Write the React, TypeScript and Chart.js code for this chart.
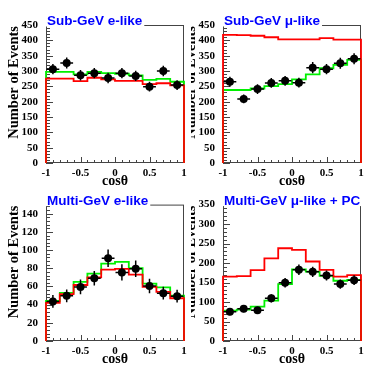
import React, { useEffect, useRef } from "react";
import { Chart, registerables } from "chart.js";

Chart.register(...registerables);

// ---- data ----
const binEdges = [-1, -0.8, -0.6, -0.4, -0.2, 0, 0.2, 0.4, 0.6, 0.8, 1];
const binCenters = [-0.9, -0.7, -0.5, -0.3, -0.1, 0.1, 0.3, 0.5, 0.7, 0.9];

const subGeVeData = [306, 326, 286, 293, 277, 293, 284, 249, 300, 254];
const subGeVeErr = [17, 18, 17, 17, 17, 17, 17, 16, 17, 16];
const subGeVeOsc = [297, 297, 289, 297, 293, 291, 286, 271, 274, 265];
const subGeVeNoOsc = [275, 275, 267, 278, 273, 268, 268, 257, 260, 253];

const subGeVmuData = [265, 209, 241, 261, 268, 262, 311, 306, 325, 340];
const subGeVmuErr = [16, 14, 16, 16, 16, 16, 18, 17, 18, 18];
const subGeVmuOsc = [238, 238, 243, 251, 257, 273, 289, 309, 320, 336];
const subGeVmuNoOsc = [418, 417, 415, 410, 403, 403, 403, 407, 402, 402];

const multiGeVeData = [43.5, 49.7, 59.5, 69, 91, 75.4, 79.4, 60.5, 52.6, 49.3];
const multiGeVeErr = [7, 7, 8, 8, 9.5, 9, 9, 8, 7, 7];
const multiGeVeOsc = [44, 53, 65, 74, 85, 87, 80, 63, 59, 50];
const multiGeVeNoOsc = [42, 51.5, 61.6, 70, 78.6, 79.4, 73, 59.5, 54, 47];

const multiGeVmuData = [75, 82.5, 79, 109.5, 149.5, 182.6, 177.5, 168, 146, 156];
const multiGeVmuErr = [9, 9, 9, 10.5, 12, 13.5, 13, 13, 12, 12.5];
const multiGeVmuOsc = [78, 80.7, 88, 103.6, 146, 184, 178, 167, 154.6, 157];
const multiGeVmuNoOsc = [165, 166.5, 182, 212, 238, 233.6, 204, 182.6, 165, 169];

const titles = ["Sub-GeV e-like", "Sub-GeV \u03bc-like", "Multi-GeV e-like", "Multi-GeV \u03bc-like + PC"];
const yMaxes = [450, 450, 150, 350];
const ySteps = [50, 50, 20, 50];
const xTickStep = 0.5;
const yAxisTitle = "Number of Events";
const xAxisTitle = "cos\u03b8";

type PanelCfg = {
  title: string;
  data: number[];
  err: number[];
  osc: number[];
  noOsc: number[];
  yMax: number;
  yStep: number;
  x: number;
  y: number;
  w: number;
  h: number;
  left: number;
  top: number;
};

const PLOT = 138;

const panels: PanelCfg[] = [
  { title: titles[0], data: subGeVeData, err: subGeVeErr, osc: subGeVeOsc, noOsc: subGeVeNoOsc, yMax: yMaxes[0], yStep: ySteps[0], x: 0, y: 0, w: 191, h: 190, left: 46, top: 25 },
  { title: titles[1], data: subGeVmuData, err: subGeVmuErr, osc: subGeVmuOsc, noOsc: subGeVmuNoOsc, yMax: yMaxes[1], yStep: ySteps[1], x: 191, y: 0, w: 191, h: 190, left: 32, top: 25 },
  { title: titles[2], data: multiGeVeData, err: multiGeVeErr, osc: multiGeVeOsc, noOsc: multiGeVeNoOsc, yMax: yMaxes[2], yStep: ySteps[2], x: 0, y: 190, w: 191, h: 185, left: 46, top: 13 },
  { title: titles[3], data: multiGeVmuData, err: multiGeVmuErr, osc: multiGeVmuOsc, noOsc: multiGeVmuNoOsc, yMax: yMaxes[3], yStep: ySteps[3], x: 191, y: 190, w: 191, h: 185, left: 32, top: 13 },
];

function histPoints(vals: number[]) {
  const pts = [{ x: binEdges[0], y: 0 }];
  vals.forEach((v, i) => {
    pts.push({ x: binEdges[i], y: v });
    pts.push({ x: binEdges[i + 1], y: v });
  });
  pts.push({ x: binEdges[vals.length], y: 0 });
  return pts;
}

const decorPlugin = {
  id: "decor",
  beforeDatasetsDraw(chart: any, _args: any, opts: any) {
    const { ctx, chartArea: a } = chart;
    const xs = chart.scales.x;
    const ys = chart.scales.y;
    ctx.save();
    ctx.strokeStyle = "#444";
    ctx.lineWidth = 1;
    ctx.strokeRect(a.left + 0.5, a.top + 0.5, a.right - a.left - 1, a.bottom - a.top - 1);
    ctx.beginPath();
    const minor = opts.yStep / 5;
    const nY = Math.round(opts.yMax / minor);
    for (let i = 0; i <= nY; i++) {
      const v = i * minor;
      const major = i % 5 === 0;
      const py = Math.round(ys.getPixelForValue(v)) + 0.5;
      ctx.moveTo(a.left, py);
      ctx.lineTo(a.left + (major ? 7 : 4), py);
    }
    for (let k = -10; k <= 10; k++) {
      const v = k / 10;
      const major = k % 5 === 0;
      const px = Math.round(xs.getPixelForValue(v)) + 0.5;
      ctx.moveTo(px, a.bottom);
      ctx.lineTo(px, a.bottom - (major ? 6 : 3));
    }
    ctx.stroke();

    // axis titles
    ctx.fillStyle = "#000";
    ctx.font = 'bold 14.5px "Liberation Serif"';
    ctx.save();
    ctx.translate(a.left - 28, a.top + 1);
    ctx.rotate(-Math.PI / 2);
    ctx.textAlign = "right";
    ctx.textBaseline = "alphabetic";
    ctx.fillText(yAxisTitle, 0, 0);
    ctx.restore();
    ctx.font = 'bold 14px "Liberation Serif"';
    ctx.textAlign = "center";
    ctx.textBaseline = "alphabetic";
    ctx.fillText(xAxisTitle, (a.left + a.right) / 2, a.bottom + 22);
    ctx.restore();
  },
  beforeDatasetDraw(chart: any, args: any, opts: any) {
    if (args.index !== 0) return;
    const { ctx } = chart;
    const xs = chart.scales.x;
    const ys = chart.scales.y;
    ctx.save();
    ctx.strokeStyle = "#000";
    ctx.lineWidth = 1.5;
    ctx.beginPath();
    opts.data.forEach((v: number, i: number) => {
      const px = xs.getPixelForValue(binCenters[i]);
      const py = ys.getPixelForValue(v);
      ctx.moveTo(px, ys.getPixelForValue(v - opts.err[i]));
      ctx.lineTo(px, ys.getPixelForValue(v + opts.err[i]));
      ctx.moveTo(xs.getPixelForValue(binEdges[i]) + 0.5, py);
      ctx.lineTo(xs.getPixelForValue(binEdges[i + 1]) - 0.5, py);
    });
    ctx.stroke();
    ctx.restore();
  },
  afterDraw(chart: any, _args: any, opts: any) {
    const { ctx, chartArea: a } = chart;
    ctx.save();
    ctx.font = 'bold 13.5px "Liberation Sans"';
    const w = ctx.measureText(opts.title).width;
    ctx.fillStyle = "#fff";
    ctx.fillRect(a.left - 1, a.top - 13, w + 4, 14.5);
    ctx.fillStyle = "#0000ff";
    ctx.textAlign = "left";
    ctx.textBaseline = "alphabetic";
    ctx.fillText(opts.title, a.left + 1, a.top);
    ctx.restore();
  },
};

function Panel({ cfg }: { cfg: PanelCfg }) {
  const ref = useRef<HTMLCanvasElement | null>(null);
  useEffect(() => {
    if (!ref.current) return;
    const tickFont = { family: "Liberation Serif", weight: "bold" as const, size: 11 };
    const chart = new Chart(ref.current, {
      type: "scatter",
      data: {
        datasets: [
          {
            label: "data",
            data: binCenters.map((c, i) => ({ x: c, y: cfg.data[i] })),
            pointRadius: 4,
            pointBackgroundColor: "#000",
            pointBorderWidth: 0,
            showLine: false,
            clip: false,
          },
          {
            label: "no osc",
            data: histPoints(cfg.noOsc),
            showLine: true,
            borderColor: "#ff0000",
            borderWidth: 1.8,
            pointRadius: 0,
            tension: 0,
            clip: false,
          },
          {
            label: "osc",
            data: histPoints(cfg.osc),
            showLine: true,
            borderColor: "#00f000",
            borderWidth: 1.8,
            pointRadius: 0,
            tension: 0,
            clip: false,
          },
        ],
      } as any,
      options: {
        animation: false,
        responsive: false,
        devicePixelRatio: 1,
        events: [],
        layout: { padding: { left: 0, top: cfg.top, right: cfg.w - cfg.left - PLOT, bottom: 0 } },
        plugins: {
          legend: { display: false },
          tooltip: { enabled: false },
          decor: { title: cfg.title, yMax: cfg.yMax, yStep: cfg.yStep, data: cfg.data, err: cfg.err },
        } as any,
        scales: {
          x: {
            type: "linear",
            min: -1,
            max: 1,
            grid: { display: false, drawTicks: false },
            border: { display: false },
            ticks: { stepSize: xTickStep, color: "#000", font: tickFont, padding: 4, maxRotation: 0, autoSkip: false, callback: (v: any) => String(v) },
            afterFit: (s: any) => {
              s.height = cfg.h - cfg.top - PLOT;
            },
          },
          y: {
            type: "linear",
            min: 0,
            max: cfg.yMax,
            grid: { display: false, drawTicks: false },
            border: { display: false },
            ticks: { stepSize: cfg.yStep, includeBounds: false, autoSkip: false, color: "#000", font: tickFont, padding: 8, callback: (v: any) => String(v) },
            afterFit: (s: any) => {
              s.width = cfg.left;
            },
          },
        },
      } as any,
      plugins: [decorPlugin],
    });
    return () => chart.destroy();
  }, []);
  return (
    <canvas
      ref={ref}
      width={cfg.w}
      height={cfg.h}
      style={{ position: "absolute", left: cfg.x, top: cfg.y, width: cfg.w, height: cfg.h }}
    />
  );
}

export default function App() {
  return (
    <div style={{ position: "absolute", left: 0, top: 0, width: 382, height: 375, background: "#fff", overflow: "hidden" }}>
      {panels.map((p, i) => (
        <Panel key={i} cfg={p} />
      ))}
    </div>
  );
}
